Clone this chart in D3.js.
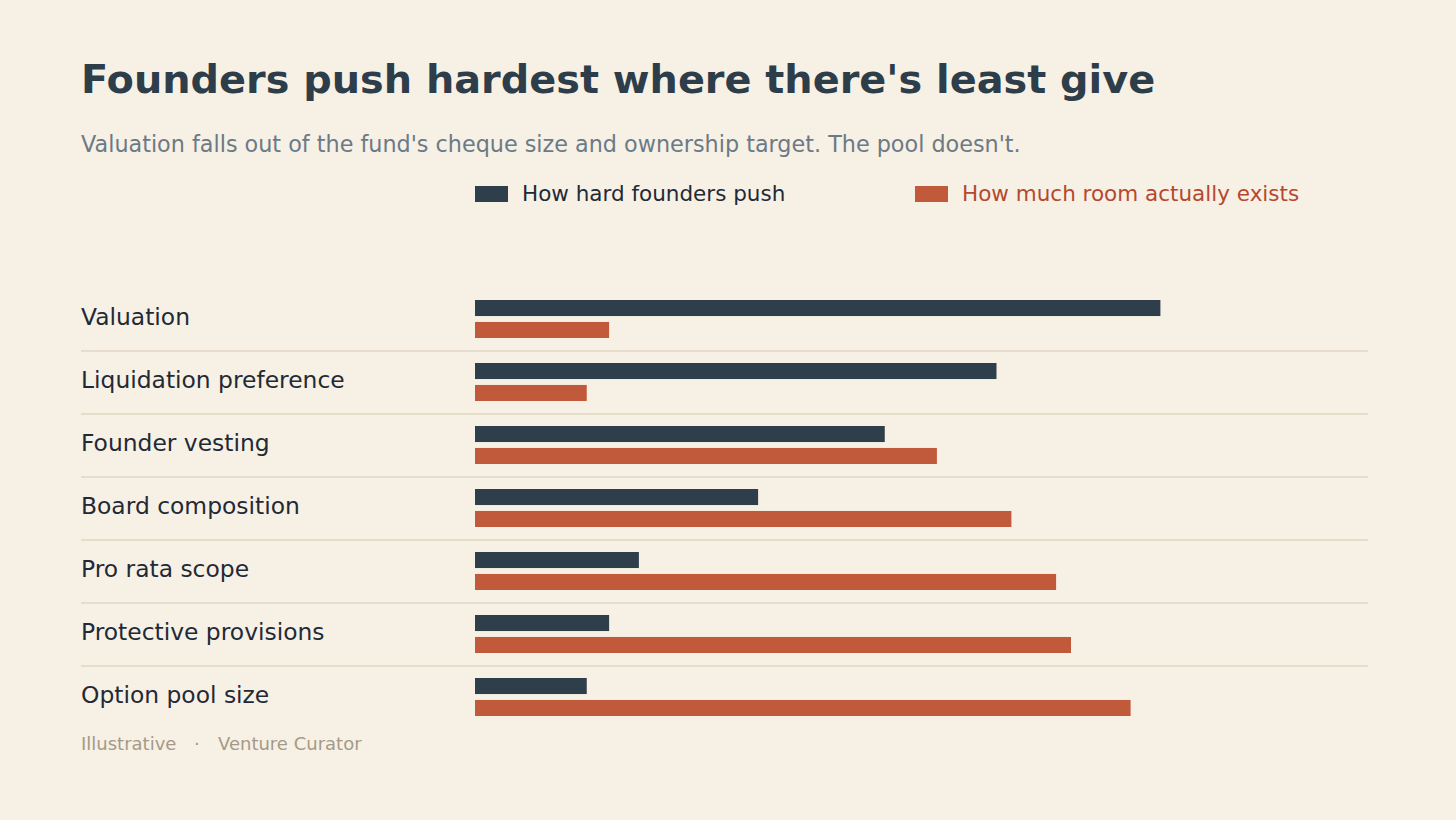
<!DOCTYPE html>
<html lang="en">
<head>
    <meta charset="utf-8">
    <script src="https://d3js.org/d3.v7.min.js"></script>
    <style>
        body { margin: 0; background: #f7f0e5; }
        svg { display: block; font-family: "DejaVu Sans", sans-serif; }
    </style>
</head>
<body>
<script>
    // chart values (0-10 scale)
    const categories = ["Valuation", "Liquidation preference", "Founder vesting", "Board composition",
        "Pro rata scope", "Protective provisions", "Option pool size"];
    const pushValues = [9.2, 7.0, 5.5, 3.8, 2.2, 1.8, 1.5];
    const roomValues = [1.8, 1.5, 6.2, 7.2, 7.8, 8.0, 8.8];
    const seriesNames = ["How hard founders push", "How much room actually exists"];
    const seriesColors = ["#2f3e4b", "#c05a3a"];

    const W = 1456, H = 820;

    const svg = d3.select("body").append("svg")
        .attr("width", W)
        .attr("height", H);

    svg.append("rect").attr("width", W).attr("height", H).attr("fill", "#f7f0e5");

    // title + subtitle
    svg.append("text")
        .attr("x", 81).attr("y", 93)
        .attr("font-size", 39.8).attr("font-weight", "bold")
        .attr("fill", "#2e3d4a")
        .text("Founders push hardest where there's least give");

    svg.append("text")
        .attr("x", 81).attr("y", 152)
        .attr("font-size", 22.3)
        .attr("fill", "#6c7a85")
        .text("Valuation falls out of the fund's cheque size and ownership target. The pool doesn't.");

    // legend
    const legendX = [475, 915];
    const legendText = ["#1f2a36", "#b5492f"];
    const legend = svg.selectAll("g.legend")
        .data(seriesNames)
        .enter().append("g")
        .attr("class", "legend")
        .attr("transform", (d, i) => `translate(${legendX[i]},186)`);
    legend.append("rect")
        .attr("width", 33).attr("height", 16)
        .attr("fill", (d, i) => seriesColors[i]);
    legend.append("text")
        .attr("x", 47).attr("y", 15)
        .attr("font-size", 21.5)
        .attr("fill", (d, i) => legendText[i])
        .text(d => d);

    // scales
    const x = d3.scaleLinear().domain([0, 10]).range([475, 1220]);
    const y = d3.scaleBand().domain(categories).range([288, 729]);
    const inner = d3.scaleBand().domain([0, 1]).range([12, 50]).paddingInner(0.27);

    const rows = svg.selectAll("g.row")
        .data(categories)
        .enter().append("g")
        .attr("class", "row")
        .attr("transform", d => `translate(0,${y(d)})`);

    // separators between rows
    rows.filter((d, i) => i < categories.length - 1)
        .append("line")
        .attr("x1", 81).attr("x2", 1368)
        .attr("y1", y.bandwidth()).attr("y2", y.bandwidth())
        .attr("stroke", "#d6c9b2").attr("stroke-width", 1);

    rows.append("text")
        .attr("x", 81).attr("y", 37)
        .attr("font-size", 23.4)
        .attr("fill", "#1f2a36")
        .text(d => d);

    rows.selectAll("rect")
        .data((d, i) => [pushValues[i], roomValues[i]])
        .enter().append("rect")
        .attr("x", x(0))
        .attr("y", (d, j) => inner(j))
        .attr("width", d => x(d) - x(0))
        .attr("height", inner.bandwidth())
        .attr("fill", (d, j) => seriesColors[j]);

    // footer
    const footer = svg.append("text")
        .attr("y", 750)
        .attr("font-size", 18)
        .attr("fill", "#a59a88");
    footer.append("tspan").attr("x", 81).text("Illustrative");
    footer.append("tspan").attr("x", 194).text("·");
    footer.append("tspan").attr("x", 218).text("Venture Curator");
</script>
</body>
</html>
